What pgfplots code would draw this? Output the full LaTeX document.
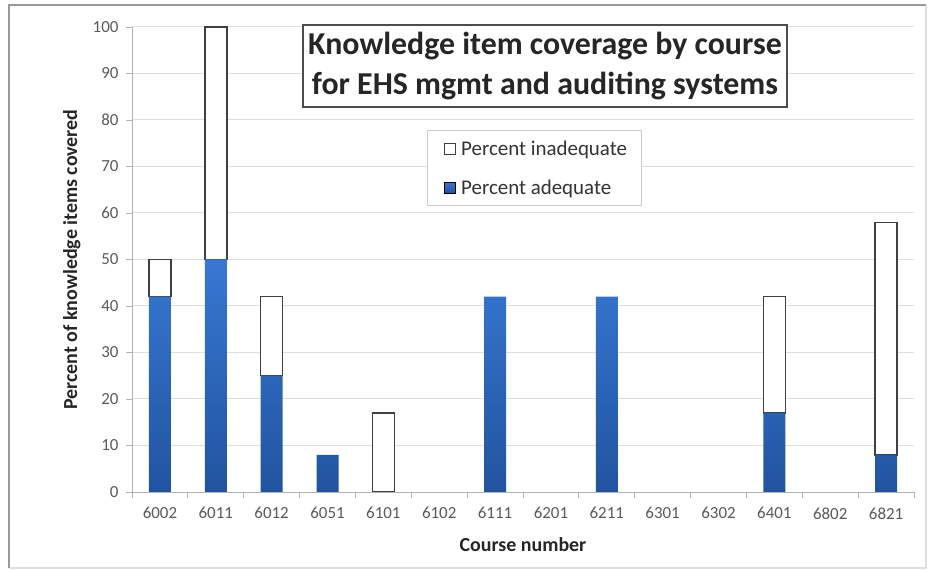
\documentclass[border=0pt]{standalone}
\usepackage{pgfplots}
\pgfplotsset{compat=1.18}
\usepackage{fontspec}
\setmainfont{Carlito}
\definecolor{barblueT}{RGB}{55,120,210}
\definecolor{barblueB}{RGB}{33,84,160}
\definecolor{ticktext}{RGB}{89,89,89}
\begin{document}
\begin{tikzpicture}
\path[use as bounding box] (0,0) rectangle (935bp,571bp);
\draw[gray!25, line width=1.2bp] (926bp,566bp) -- (926bp,3bp) -- (9bp,3bp);
\draw[gray!80, line width=2bp] (9bp,3bp) -- (9bp,566bp) -- (926bp,566bp);
\begin{axis}[
  at={(132bp,79bp)}, anchor=south west,
  width=782bp, height=465bp, scale only axis,
  ybar stacked, bar width=22bp,
  xmin=-0.5, xmax=13.5, ymin=0, ymax=100,
  ytick={0,10,...,100},
  xtick={0,...,13},
  xticklabels={6002,6011,6012,6051,6101,6102,6111,6201,6211,6301,6302,6401,6802,6821},
  minor xtick={-0.5,0.5,...,13.5},
  major x tick style={draw=none},
  minor x tick style={draw=gray!60, line width=0.8bp},
  y tick style={draw=gray!60, line width=0.8bp},
  major tick length=6bp, minor tick length=6bp,
  tick align=outside,
  axis x line*=bottom, axis y line*=left,
  axis line style={draw=gray!60, line width=0.8bp},
  ymajorgrids, grid style={draw=gray!25, line width=1bp},
  /pgf/number format/assume math mode=true,
  ticklabel style={font=\fontsize{17}{20}\selectfont, text=ticktext},
  xticklabel style={yshift=-6bp},
  yticklabel style={xshift=-4bp},
  xlabel={\bfseries Course number},
  ylabel={\bfseries Percent of knowledge items covered},
  label style={font=\fontsize{20}{24}\selectfont, text=black!85},
  xlabel style={at={(axis description cs:0.5,-0.114)}, anchor=center},
  ylabel style={at={(axis description cs:-0.077,0.5)}, anchor=center},
  reverse legend,
  legend style={at={(0.377,0.778)}, anchor=north west, draw=gray!40, fill=white,
    font=\fontsize{21}{25}\selectfont, text=black!80, row sep=19bp,
    inner xsep=12bp, inner ysep=8bp, line width=0.8bp},
  legend cell align=left,
  legend image code/.code={\path[draw=none,fill=none,shade=none] (-5bp,0) -- (15bp,0);\draw[#1, line width=0.6bp] (0bp,-5.5bp) rectangle (11bp,5.5bp);},
]
\addplot[draw=none, top color=barblueT, bottom color=barblueB] coordinates {
(0,42) (1,50) (2,25) (3,8) (4,0) (5,0) (6,42) (7,0) (8,42) (9,0) (10,0) (11,17) (12,0) (13,8)};
\addlegendentry{Percent adequate}
\addplot[draw=black!75, fill=white, line width=1.5bp] coordinates {
(0,8) (1,50) (2,17) (3,0) (4,17) (5,0) (6,0) (7,0) (8,0) (9,0) (10,0) (11,25) (12,0) (13,50)};
\addlegendentry{Percent inadequate}
\end{axis}
\node[draw=black!70, line width=1.2bp, fill=white, align=center,
  font=\fontsize{32}{40}\selectfont\bfseries, text=black!85,
  minimum width=484bp, minimum height=82bp, inner sep=2bp] at (545bp,505bp)
  {Knowledge item coverage by course\\for EHS mgmt and auditing systems};
\end{tikzpicture}
\end{document}
